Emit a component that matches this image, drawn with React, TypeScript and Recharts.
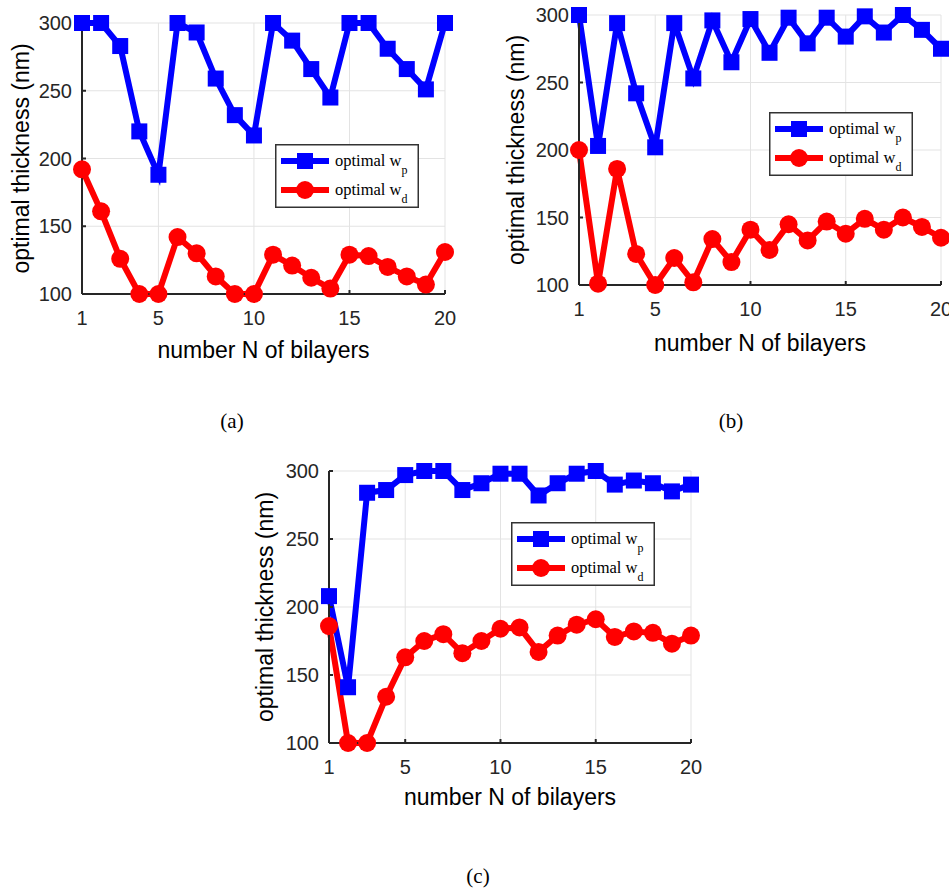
import { LineChart, Line, XAxis, YAxis, CartesianGrid, Legend } from "recharts";

const bilayers = [1, 2, 3, 4, 5, 6, 7, 8, 9, 10, 11, 12, 13, 14, 15, 16, 17, 18, 19, 20];
const xTicks = [1, 5, 10, 15, 20];
const yTicks = [100, 150, 200, 250, 300];

// panel (a)
const wpA = [300, 300, 283, 220, 188, 300, 293, 259, 232, 217, 300, 287, 266, 245, 300, 300, 281, 266, 251, 300];
const wdA = [192, 161, 126, 100, 100, 142, 130, 113, 100, 100, 129, 121, 112, 104, 129, 128, 120, 113, 107, 131];
// panel (b)
const wpB = [300, 203, 294, 242, 202, 294, 253, 296, 265, 297, 272, 298, 279, 298, 284, 299, 287, 300, 289, 275];
const wdB = [200, 101, 186, 123, 100, 120, 102, 134, 117, 141, 126, 145, 133, 147, 138, 149, 141, 150, 143, 135];
// panel (c)
const wpC = [208, 141, 284, 286, 297, 300, 300, 286, 291, 298, 298, 282, 291, 298, 300, 290, 293, 291, 285, 290];
const wdC = [186, 100, 100, 134, 163, 175, 180, 166, 175, 184, 185, 167, 179, 187, 191, 178, 182, 181, 173, 179];

const BLUE = "#0000ff";
const RED = "#ff0000";
const AXIS = "#262626";
const SANS = "'Liberation Sans', Arial, Helvetica, sans-serif";
const SERIF = "'Liberation Serif', 'Times New Roman', serif";

const SquareDot = (p: any) => {
  if (p.cx == null || p.cy == null) return null;
  return <rect key={`sq-${p.index}`} x={p.cx - 8} y={p.cy - 8} width={16} height={16} fill={BLUE} />;
};

const CircleDot = (p: any) => {
  if (p.cx == null || p.cy == null) return null;
  return <circle key={`ci-${p.index}`} cx={p.cx} cy={p.cy} r={9} fill={RED} />;
};

function LegendBox() {
  return (
    <svg width={144} height={64} style={{ display: "block" }}>
      <rect x={0.75} y={0.75} width={142.5} height={62.5} fill="#fff" stroke="#333" strokeWidth={1.5} />
      <line x1={6} y1={17} x2={54} y2={17} stroke={BLUE} strokeWidth={6} />
      <rect x={22} y={9} width={16} height={16} fill={BLUE} />
      <text x={60} y={22} fontFamily={SERIF} fontSize={16.5} fill="#000">
        optimal w<tspan dy={8} fontSize={12}>p</tspan>
      </text>
      <line x1={6} y1={46} x2={54} y2={46} stroke={RED} strokeWidth={6} />
      <circle cx={30} cy={46} r={9} fill={RED} />
      <text x={60} y={51} fontFamily={SERIF} fontSize={16.5} fill="#000">
        optimal w<tspan dy={8} fontSize={12}>d</tspan>
      </text>
    </svg>
  );
}

type PanelProps = {
  wp: number[];
  wd: number[];
  left: number;
  top: number;
  width: number;
  height: number;
  plotTop: number;
  axisWidth: number;
  plotRight: number;
  xAxisHeight: number;
  yTitleX: number;
  xTitleDy: number;
  legendLeft: number;
  legendTop: number;
};

function Panel(props: PanelProps) {
  const { wp, wd, left, top, width, height, plotTop, axisWidth, plotRight, xAxisHeight, yTitleX, xTitleDy, legendLeft, legendTop } = props;
  const rows = bilayers.map((n, i) => ({ n, wp: wp[i], wd: wd[i] }));
  const plotW = width - axisWidth - plotRight;
  const plotH = height - plotTop - xAxisHeight;
  const cy = plotTop + plotH / 2;
  const cx = axisWidth + plotW / 2;

  return (
    <div style={{ position: "absolute", left, top }}>
      <LineChart width={width} height={height} data={rows} margin={{ top: plotTop, right: plotRight, left: 0, bottom: 0 }}>
        <CartesianGrid stroke="#e3e3e3" strokeWidth={1} />
        <XAxis
          dataKey="n"
          type="number"
          domain={[1, 20]}
          ticks={xTicks}
          height={xAxisHeight}
          stroke={AXIS}
          strokeWidth={2}
          tickSize={-4}
          tickMargin={21}
          tick={{ fill: AXIS, fontSize: 20, fontFamily: SANS }}
          interval={0}
          label={{
            content: () => (
              <text x={cx} y={plotTop + plotH + xTitleDy} textAnchor="middle" fontFamily={SANS} fontSize={23} fill="#000">
                number N of bilayers
              </text>
            ),
          }}
        />
        <YAxis
          type="number"
          domain={[100, 300]}
          ticks={yTicks}
          width={axisWidth}
          stroke={AXIS}
          strokeWidth={2}
          tickSize={-4}
          tickMargin={14}
          tick={{ fill: AXIS, fontSize: 20, fontFamily: SANS }}
          interval={0}
          label={{
            content: () => (
              <text
                x={yTitleX}
                y={cy}
                textAnchor="middle"
                dominantBaseline="central"
                transform={`rotate(-90, ${yTitleX}, ${cy})`}
                fontFamily={SANS}
                fontSize={23}
                fill="#000"
              >
                optimal thickness (nm)
              </text>
            ),
          }}
        />
        <Legend
          layout="vertical"
          align="center"
          verticalAlign="middle"
          content={() => <LegendBox />}
          wrapperStyle={{ left: legendLeft, top: legendTop, width: 144, height: 64 }}
        />
        <Line type="linear" dataKey="wp" name="optimal wp" stroke={BLUE} strokeWidth={6} dot={SquareDot} activeDot={false} isAnimationActive={false} />
        <Line type="linear" dataKey="wd" name="optimal wd" stroke={RED} strokeWidth={6} dot={CircleDot} activeDot={false} isAnimationActive={false} />
      </LineChart>
    </div>
  );
}

const captionStyle = (x: number, y: number): React.CSSProperties => ({
  position: "absolute",
  left: x - 30,
  top: y - 13,
  width: 60,
  textAlign: "center",
  fontFamily: SERIF,
  fontSize: 21,
  lineHeight: "26px",
  color: "#000",
});

export default function App() {
  return (
    <div style={{ position: "absolute", left: 0, top: 0, width: 949, height: 888, overflow: "hidden", background: "#fff" }}>
      <Panel wp={wpA} wd={wdA} left={0} top={0} width={460} height={370} plotTop={23} axisWidth={82} plotRight={15} xAxisHeight={76} yTitleX={21} xTitleDy={64} legendLeft={275} legendTop={144} />
      <Panel wp={wpB} wd={wdB} left={490} top={0} width={480} height={370} plotTop={15} axisWidth={89} plotRight={29} xAxisHeight={85} yTitleX={26} xTitleDy={66} legendLeft={279} legendTop={112} />
      <Panel wp={wpC} wd={wdC} left={240} top={450} width={470} height={400} plotTop={21} axisWidth={89} plotRight={19} xAxisHeight={107} yTitleX={25} xTitleDy={62} legendLeft={271} legendTop={72} />
      <div style={captionStyle(232, 421)}>(a)</div>
      <div style={captionStyle(731, 421)}>(b)</div>
      <div style={captionStyle(478, 876)}>(c)</div>
    </div>
  );
}
